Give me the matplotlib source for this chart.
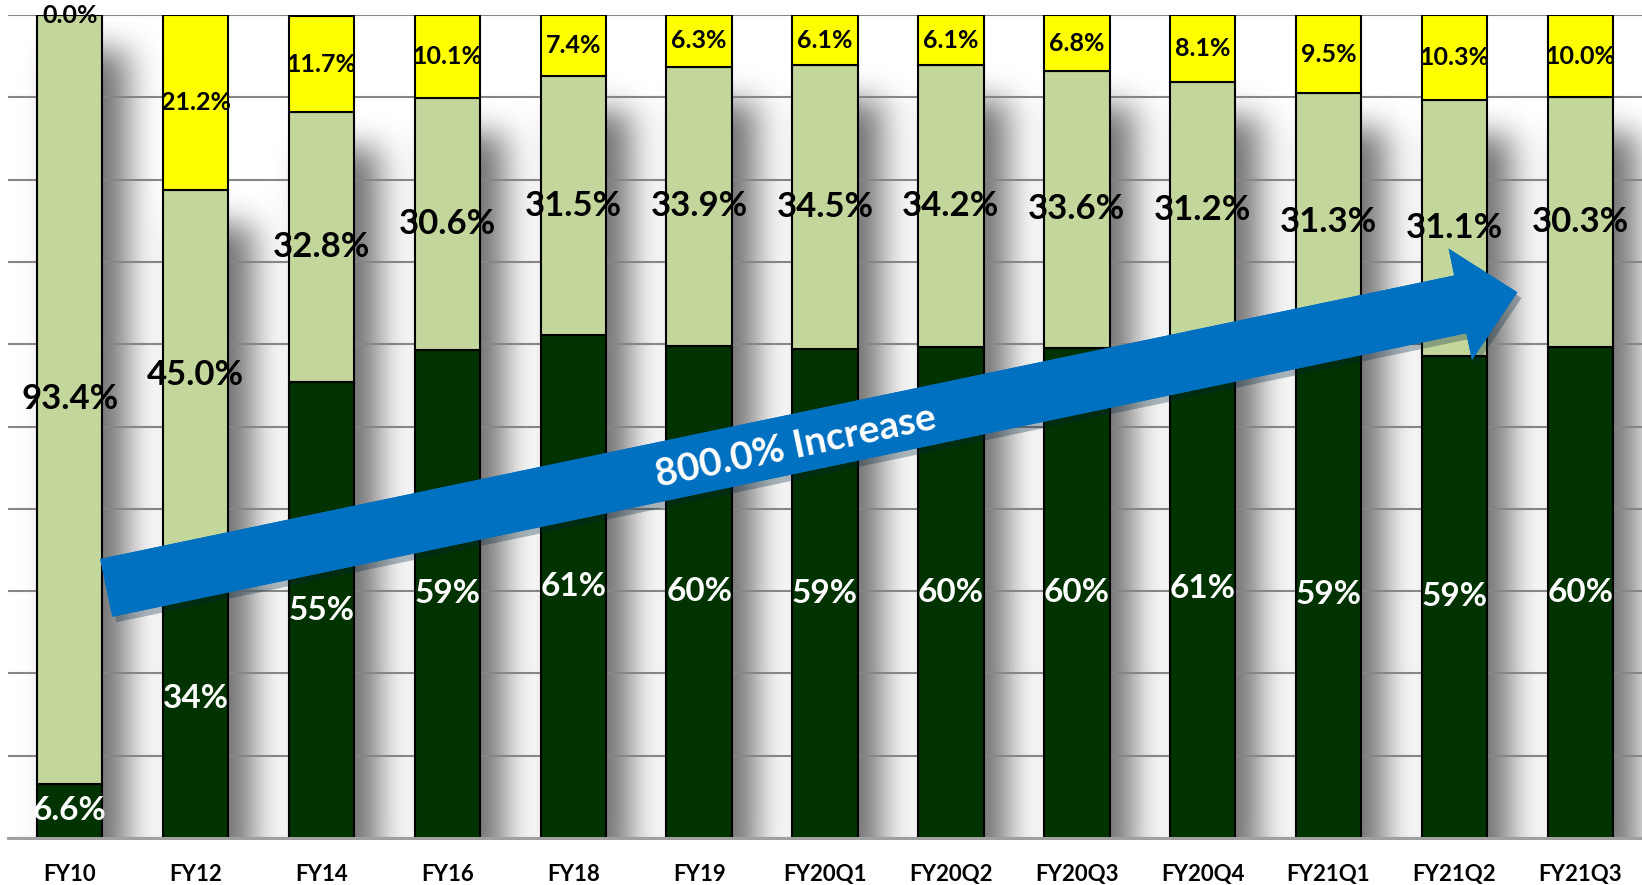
import math

import numpy as np
import matplotlib
matplotlib.use('Agg')
import matplotlib.pyplot as plt
from matplotlib import patheffects

plt.rcParams['font.family'] = ['Lato', 'DejaVu Sans']

CATEGORIES = ['FY10', 'FY12', 'FY14', 'FY16', 'FY18', 'FY19', 'FY20Q1', 'FY20Q2',
              'FY20Q3', 'FY20Q4', 'FY21Q1', 'FY21Q2', 'FY21Q3']
DARK = [6.6, 33.8, 55.4, 59.3, 61.1, 59.8, 59.4, 59.7, 59.6, 60.7, 59.2, 58.6, 59.7]
LIGHT = [93.4, 45.0, 32.8, 30.6, 31.5, 33.9, 34.5, 34.2, 33.6, 31.2, 31.3, 31.1, 30.3]
YELLOW = [0.0, 21.2, 11.7, 10.1, 7.4, 6.3, 6.1, 6.1, 6.8, 8.1, 9.5, 10.3, 10.0]
ARROW_TEXT = '800.0% Increase'

DARK_GREEN = '#003300'
LIGHT_GREEN = '#c3d69b'
YELLOW_C = '#ffff00'
BLUE = '#0070c0'
BAR_W = 0.52


def norm_cdf(z):
    return 0.5 * (1 + np.vectorize(math.erf)(z / math.sqrt(2)))


def bar_shadows(ax, heights, xlim):
    # soft drop shadow to the lower right of the green part of each bar
    dx, sx = 0.19, 0.14
    dy, sy = 4.2, 1.9
    xs = np.linspace(xlim[0], xlim[1], 1400)
    ys = np.linspace(0, 100, 900)
    alpha = np.zeros((len(ys), len(xs)))
    for i, h in enumerate(heights):
        fx = norm_cdf((xs - (i - BAR_W / 2 + dx)) / sx) - norm_cdf((xs - (i + BAR_W / 2 + dx)) / sx)
        fy = norm_cdf((ys + dy) / sy) - norm_cdf((ys - (h - dy)) / sy)
        alpha += np.outer(fy, fx)
    rgba = np.zeros((len(ys), len(xs), 4))
    rgba[..., 3] = np.clip(alpha, 0, 1) * 0.58
    ax.imshow(rgba, extent=(xlim[0], xlim[1], 0, 100), origin='lower',
              aspect='auto', zorder=0.1, interpolation='bilinear')


fig = plt.figure(figsize=(16.42, 8.85), dpi=100)
ax = fig.add_axes([0.0049, 0.0531, 0.9951, 0.9299])

x = np.arange(len(CATEGORIES))
dark = np.array(DARK)
light = np.array(LIGHT)
yellow = np.array(YELLOW)
xlim = (-0.49, len(CATEGORIES) - 0.51)

bar_shadows(ax, dark + light, xlim)

ax.bar(x, dark, width=BAR_W, color=DARK_GREEN, edgecolor='black', linewidth=1.5, zorder=2)
ax.bar(x, light, bottom=dark, width=BAR_W, color=LIGHT_GREEN, edgecolor='black',
       linewidth=1.5, zorder=2)
ax.bar(x, yellow, bottom=dark + light, width=BAR_W, color=YELLOW_C, edgecolor='black',
       linewidth=1.5, zorder=2)

for i in x:
    d_lab = f'{dark[i]:.1f}%' if dark[i] < 10 else f'{dark[i]:.0f}%'
    ax.text(i, dark[i] / 2, d_lab, color='white', fontsize=24, fontweight='bold',
            ha='center', va='center', zorder=4)
    ax.text(i, dark[i] + light[i] / 2, f'{light[i]:.1f}%', color='black', fontsize=25,
            fontweight='bold', ha='center', va='center', zorder=4)
    ax.text(i, dark[i] + light[i] + yellow[i] / 2, f'{yellow[i]:.1f}%', color='black',
            fontsize=18, fontweight='bold', ha='center', va='center', zorder=4)

ax.set_xlim(*xlim)
ax.set_ylim(0, 100)

# big blue trend arrow
tail = (0.29, 30.4)
tip = (11.50, 66.3)
ax.annotate('', xy=tip, xytext=tail, zorder=5,
            arrowprops=dict(arrowstyle='simple,head_length=42,head_width=82,tail_width=42.5',
                            mutation_scale=1, fc=BLUE, ec='none', shrinkA=0, shrinkB=0,
                            path_effects=[patheffects.withSimplePatchShadow(offset=(3, -4),
                                                                            alpha=0.3),
                                          patheffects.Normal()]))
p0 = ax.transData.transform(tail)
p1 = ax.transData.transform(tip)
angle = math.degrees(math.atan2(p1[1] - p0[1], p1[0] - p0[0]))
ax.text(5.77, 47.6, ARROW_TEXT, color='white', fontsize=28, fontweight='bold',
        rotation=angle, rotation_mode='anchor', ha='center', va='center', zorder=6)

ax.set_yticks(np.arange(0, 101, 10))
ax.yaxis.grid(True, color='#868686', linewidth=1.5)
ax.set_axisbelow(True)
ax.tick_params(axis='y', left=False, labelleft=False)
ax.set_xticks(x, CATEGORIES, fontsize=16, fontweight='bold')
ax.tick_params(axis='x', length=0, pad=19)

for side in ['left', 'right', 'top']:
    ax.spines[side].set_visible(False)
ax.spines['bottom'].set_color('#a0a0a0')
ax.spines['bottom'].set_linewidth(2.2)

fig.savefig('out.png', dpi=100)
